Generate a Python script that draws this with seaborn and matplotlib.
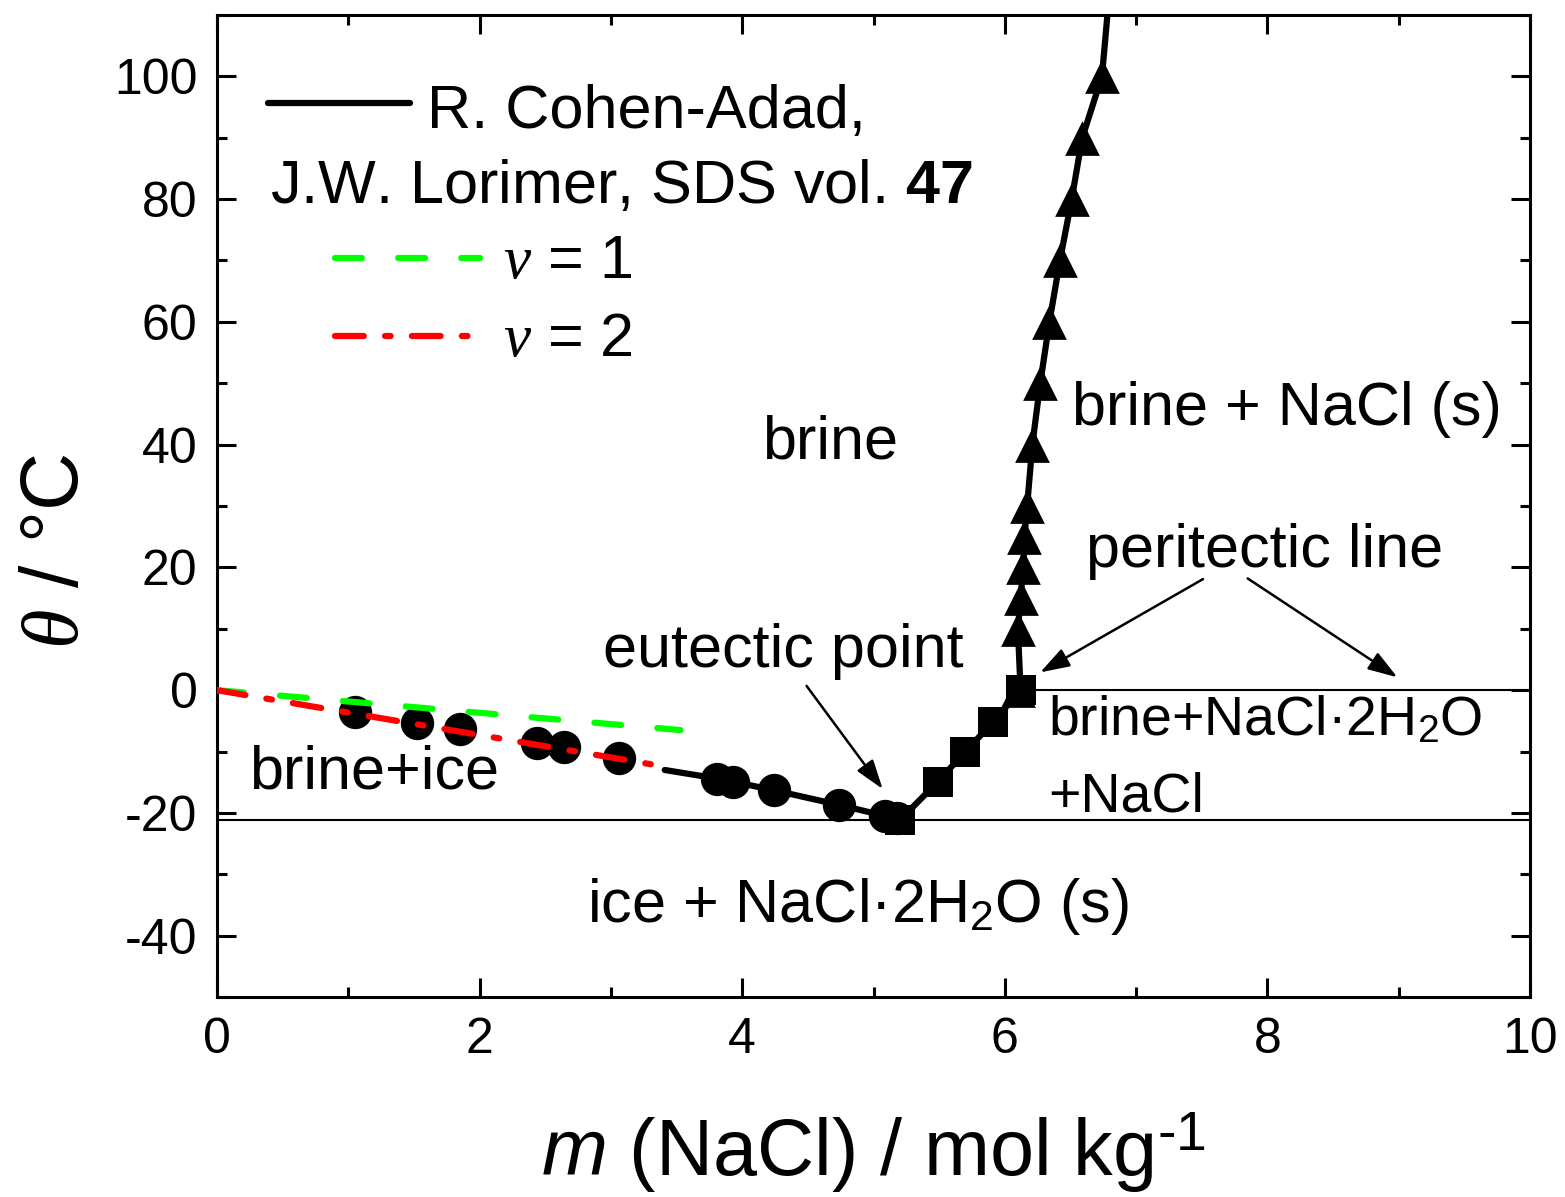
"""
NaCl-H2O phase diagram (solid-liquid equilibria)
"""

import numpy as np
import pandas as pd
import matplotlib
matplotlib.use('Agg')
import matplotlib.pyplot as plt
from matplotlib.lines import Line2D
from matplotlib.ticker import MultipleLocator
import seaborn as sns

# --- data ---
# circles: brine + ice liquidus
ice_m = [1.05, 1.52, 1.85, 2.44, 2.64, 3.06, 3.81, 3.93, 4.24, 4.74, 5.09, 5.18]
ice_t = [-3.5, -5.4, -6.3, -8.6, -9.3, -11.1, -14.4, -14.9, -16.3, -18.7, -20.5, -20.9]

# squares: brine + NaCl.2H2O
hyd_m = [5.20, 5.49, 5.70, 5.91, 6.12]
hyd_t = [-21.2, -14.9, -10.0, -5.2, 0.0]

# triangles: brine + NaCl
salt_m = [6.10, 6.10, 6.12, 6.14, 6.15, 6.17, 6.21, 6.27, 6.34, 6.42, 6.51, 6.59, 6.74]
salt_t = [0, 10, 15, 20, 25, 30, 40, 50, 60, 70, 80, 90, 100]

# solid line (Cohen-Adad & Lorimer)
ref_m = [3.41, 3.81, 3.93, 4.24, 4.74, 5.09, 5.20, 5.49, 5.70, 5.91, 6.12, 6.10,
         6.12, 6.14, 6.15, 6.17, 6.21, 6.27, 6.34, 6.42, 6.51, 6.59, 6.74, 6.79]
ref_t = [-13.0, -14.4, -14.9, -16.3, -18.7, -20.5, -21.2, -14.9, -10.0, -5.2, 0.0, 10,
         15, 20, 25, 30, 40, 50, 60, 70, 80, 90, 100, 112]

# freezing point depression, nu = 1 and nu = 2
nu1_m = [0.0, 3.53]
nu1_t = [0.0, -6.5]
nu2_m = [0.0, 3.45]
nu2_t = [0.0, -12.6]

# invariant lines
eut_t = -21.2
eut_m = [0.0, 10.0]
peri_t = 0.0
peri_m = [6.12, 10.0]

# --- style ---
sns.set_theme(style='ticks')
plt.rcParams['font.family'] = ['Liberation Sans', 'DejaVu Sans']
plt.rcParams['mathtext.fontset'] = 'custom'
plt.rcParams['mathtext.rm'] = 'Liberation Sans'
plt.rcParams['mathtext.it'] = 'Liberation Serif:italic'
plt.rcParams['mathtext.bf'] = 'Liberation Sans:bold'
plt.rcParams['mathtext.sf'] = 'Liberation Sans:italic'
plt.rcParams['axes.unicode_minus'] = False
for key in ['text.color', 'axes.labelcolor', 'xtick.color', 'ytick.color',
            'axes.edgecolor']:
    plt.rcParams[key] = 'black'

fig = plt.figure(figsize=(15.65, 11.97), dpi=100)
ax = fig.add_axes([0.1387, 0.167, 0.8389, 0.8205])

LW = 4.5
GREEN = '#00ff00'
RED = '#ff0000'

# invariant lines
ax.hlines(eut_t, eut_m[0], eut_m[1], color='black', lw=1.5, zorder=1)
ax.hlines(peri_t, peri_m[0], peri_m[1], color='black', lw=1.5, zorder=1)

# reference curve
ref_df = pd.DataFrame({'m': ref_m, 't': ref_t})
sns.lineplot(data=ref_df, x='m', y='t', sort=False, estimator=None,
             color='black', lw=LW, ax=ax, zorder=2)

# measured points
sns.scatterplot(x=ice_m, y=ice_t, marker='o', s=24**2, color='black',
                linewidth=0, ax=ax, zorder=3)
sns.scatterplot(x=hyd_m, y=hyd_t, marker='s', s=21**2, color='black',
                linewidth=0, ax=ax, zorder=3)
sns.scatterplot(x=salt_m, y=salt_t, marker='^', s=25**2, color='black',
                linewidth=0, ax=ax, zorder=3)

# nu = 1 / nu = 2 lines
green_dash = (4.3, 5.8)
red_dashdot = (4.6, 3.4, 0.9, 3.4)
sns.lineplot(x=nu1_m, y=nu1_t, color=GREEN, lw=LW, ax=ax, zorder=4)
ax.lines[-1].set_dashes(green_dash)
ax.lines[-1].set_dash_capstyle('round')
sns.lineplot(x=nu2_m, y=nu2_t, color=RED, lw=LW, ax=ax, zorder=4)
ax.lines[-1].set_dashes(red_dashdot)
ax.lines[-1].set_dash_capstyle('round')

# --- axes ---
ax.set_xlim(0, 10)
ax.set_ylim(-50, 110)
ax.set_xticks([0, 2, 4, 6, 8, 10])
ax.set_yticks([-40, -20, 0, 20, 40, 60, 80, 100])
ax.xaxis.set_minor_locator(MultipleLocator(1))
ax.yaxis.set_minor_locator(MultipleLocator(10))
ax.tick_params(which='both', direction='in', top=True, right=True,
               width=2.2, labelsize=36, pad=14, color='black', labelcolor='black')
ax.tick_params(which='major', length=14)
ax.tick_params(which='minor', length=7)
for sp in ax.spines.values():
    sp.set_linewidth(2.2)
    sp.set_color('black')

ax.set_xlabel(r'$\mathsf{m}$ (NaCl) / mol kg$^{\text{-}1}$', fontsize=57)
ax.set_ylabel(r'$\theta$ / °C', fontsize=58)
ax.xaxis.set_label_coords(0.50, -0.115)
ax.yaxis.set_label_coords(-0.093, 0.454)

# --- region labels ---
FS = 44
ax.text(4.15, 37.8, 'brine', fontsize=FS)
ax.text(6.51, 43.2, 'brine + NaCl (s)', fontsize=FS)
ax.text(6.62, 20.1, 'peritectic line', fontsize=FS)
ax.text(2.94, 3.8, 'eutectic point', fontsize=FS)
ax.text(6.33, -7.3, 'brine+NaCl·2H$_2$O', fontsize=40)
ax.text(6.33, -19.8, '+NaCl', fontsize=40)
ax.text(0.24, -16.0, 'brine+ice', fontsize=FS)
ax.text(2.82, -37.7, 'ice + NaCl·2H$_2$O (s)', fontsize=FS)

arrow = dict(arrowstyle='-|>,head_length=0.9,head_width=0.3', color='black',
             lw=1.8, shrinkA=0, shrinkB=0, mutation_scale=20)
ax.annotate('', xy=(5.07, -16.1), xytext=(4.49, 0.7), arrowprops=arrow)
ax.annotate('', xy=(6.27, 2.9), xytext=(7.51, 18.1), arrowprops=arrow)
ax.annotate('', xy=(8.99, 2.1), xytext=(7.85, 18.2), arrowprops=arrow)

# --- legend (drawn by hand, axes coordinates) ---
ax.add_line(Line2D([0.0388, 0.147], [0.910, 0.910], transform=ax.transAxes,
                   color='black', lw=LW, solid_capstyle='round'))
ax.text(0.160, 0.885, 'R. Cohen-Adad,', fontsize=FS, transform=ax.transAxes)
ax.text(0.0404, 0.8086, r'J.W. Lorimer, SDS vol. $\mathbf{47}$', fontsize=FS,
        transform=ax.transAxes)
ax.add_line(Line2D([0.0899, 0.200], [0.7525, 0.7525], transform=ax.transAxes,
                   color=GREEN, lw=LW, dashes=green_dash, dash_capstyle='round'))
ax.text(0.218, 0.732, r'$\nu$ = 1', fontsize=FS, transform=ax.transAxes)
ax.add_line(Line2D([0.0899, 0.200], [0.673, 0.673], transform=ax.transAxes,
                   color=RED, lw=LW, dashes=red_dashdot, dash_capstyle='round'))
ax.text(0.218, 0.653, r'$\nu$ = 2', fontsize=FS, transform=ax.transAxes)

fig.savefig('out.png', dpi=100, facecolor='white')
